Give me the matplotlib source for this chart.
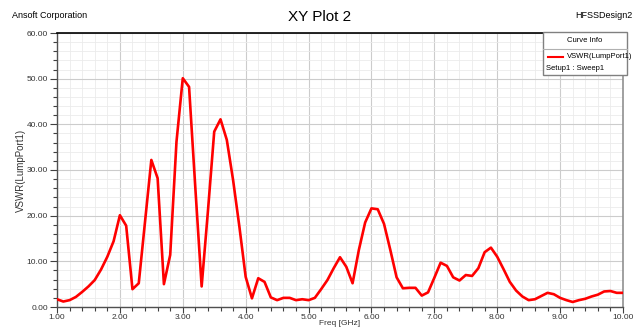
import matplotlib
matplotlib.use("Agg")
import matplotlib.pyplot as plt
from matplotlib.ticker import MultipleLocator, FormatStrFormatter
from matplotlib.patches import Rectangle
from matplotlib.lines import Line2D

plt.rcParams['font.family'] = ['Liberation Sans', 'DejaVu Sans']

# sweep points (GHz) and VSWR
freq = [1.0, 1.1, 1.2, 1.3, 1.4, 1.5, 1.6, 1.7, 1.8, 1.9,
        2.0, 2.1, 2.2, 2.3, 2.4, 2.5, 2.6, 2.7, 2.8, 2.9,
        3.0, 3.1, 3.2, 3.3, 3.4, 3.5, 3.6, 3.7, 3.8, 3.9,
        4.0, 4.1, 4.2, 4.3, 4.4, 4.5, 4.6, 4.7, 4.8, 4.9,
        5.0, 5.1, 5.2, 5.3, 5.4, 5.5, 5.6, 5.7, 5.8, 5.9,
        6.0, 6.1, 6.2, 6.3, 6.4, 6.5, 6.6, 6.7, 6.8, 6.9,
        7.0, 7.1, 7.2, 7.3, 7.4, 7.5, 7.6, 7.7, 7.8, 7.9,
        8.0, 8.1, 8.2, 8.3, 8.4, 8.5, 8.6, 8.7, 8.8, 8.9,
        9.0, 9.1, 9.2, 9.3, 9.4, 9.5, 9.6, 9.7, 9.8, 9.9,
        10.0]
vswr = [1.7, 1.2, 1.5, 2.2, 3.3, 4.5, 5.9, 8.2, 11.0, 14.4,
        20.1, 17.8, 3.9, 5.2, 18.7, 32.2, 28.2, 5.0, 11.4, 36.2,
        50.1, 48.2, 26.0, 4.5, 21.0, 38.4, 41.1, 36.6, 27.8, 17.6,
        6.6, 1.9, 6.3, 5.5, 2.1, 1.5, 2.0, 2.0, 1.5, 1.7,
        1.5, 2.0, 3.9, 5.9, 8.5, 10.9, 8.8, 5.2, 12.5, 18.5,
        21.6, 21.4, 18.2, 12.5, 6.5, 4.1, 4.2, 4.2, 2.5, 3.2,
        6.4, 9.7, 9.0, 6.5, 5.8, 7.0, 6.8, 8.5, 12.0, 13.0,
        11.0, 8.3, 5.5, 3.6, 2.3, 1.5, 1.7, 2.4, 3.1, 2.8,
        2.0, 1.5, 1.1, 1.5, 1.8, 2.3, 2.7, 3.4, 3.5, 3.1,
        3.1]

W, H = 641, 327
fig = plt.figure(figsize=(W / 100, H / 100), dpi=100)
ax = fig.add_axes([57 / W, 20 / H, (623 - 57) / W, (307 - 33) / H])

ax.plot(freq, vswr, color='#ff0000', lw=1.9, zorder=3)

ax.set_xlim(1, 10)
ax.set_ylim(0, 60)
ax.xaxis.set_major_locator(MultipleLocator(1))
ax.xaxis.set_minor_locator(MultipleLocator(0.2))
ax.yaxis.set_major_locator(MultipleLocator(10))
ax.yaxis.set_minor_locator(MultipleLocator(2))
ax.xaxis.set_major_formatter(FormatStrFormatter('%.2f'))
ax.yaxis.set_major_formatter(FormatStrFormatter('%.2f'))

ax.grid(which='major', color='#cccccc', lw=0.8)
ax.grid(which='minor', color='#ebebeb', lw=0.6)
ax.set_axisbelow(True)

ax.tick_params(which='major', length=5, width=0.8, color='#404040',
               labelsize=6, labelcolor='#333333', pad=1.5)
ax.tick_params(which='minor', length=3, width=0.8, color='#404040')
ax.tick_params(axis='x', which='major', length=4, pad=1)

for s in ['left', 'bottom']:
    ax.spines[s].set_color('#505050')
    ax.spines[s].set_linewidth(1.0)
ax.spines['right'].set_color('#909090')
ax.spines['right'].set_linewidth(1.2)
ax.spines['top'].set_color('black')
ax.spines['top'].set_linewidth(1.2)

ax.set_ylabel('VSWR(LumpPort1)', fontsize=7, color='#333333')
ax.yaxis.set_label_coords(-0.055, 0.5)
ax.set_xlabel('Freq [GHz]', fontsize=6, color='#333333')
ax.xaxis.set_label_coords(0.5, -0.046)

fig.text(320 / W, 1 - 17 / H, 'XY Plot 2', fontsize=11, ha='center', va='center')
fig.text(12 / W, 1 - 15 / H, 'Ansoft Corporation', fontsize=6.5, ha='left', va='center')
fig.text(632 / W, 1 - 15 / H, 'HFSSDesign2', fontsize=6.5, ha='right', va='center')

# curve info box
x0, x1, y0, y1 = 543, 627, 32, 75
fig.patches.append(Rectangle((x0 / W, 1 - y1 / H), (x1 - x0) / W, (y1 - y0) / H,
                             transform=fig.transFigure, facecolor='white',
                             edgecolor='#808080', lw=1.0, zorder=5))
fig.lines.append(Line2D([x0 / W, x1 / W], [1 - 49 / H, 1 - 49 / H],
                        transform=fig.transFigure, color='#b0b0b0', lw=0.8, zorder=6))
fig.text((x0 + x1) / 2 / W, 1 - 40 / H, 'Curve Info', fontsize=5.5, ha='center', va='center', zorder=7)
fig.lines.append(Line2D([548 / W, 563 / W], [1 - 57 / H, 1 - 57 / H],
                        transform=fig.transFigure, color='#ff0000', lw=1.5, zorder=6))
fig.text(567 / W, 1 - 57 / H, 'VSWR(LumpPort1)', fontsize=5.5, ha='left', va='center', zorder=7)
fig.text(546 / W, 1 - 68 / H, 'Setup1 : Sweep1', fontsize=5.5, ha='left', va='center', zorder=7)

fig.savefig('out.png', dpi=100)
